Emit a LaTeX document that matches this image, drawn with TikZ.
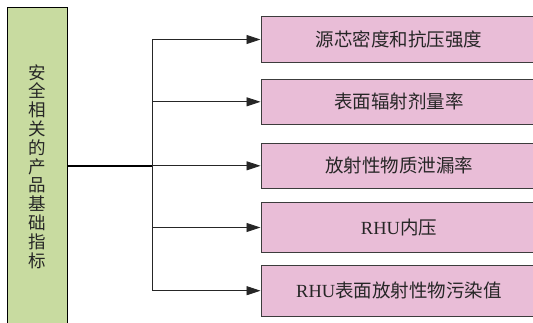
\documentclass[tikz,border=0pt]{standalone}
\usepackage{fontspec}
\setmainfont{Liberation Serif}
\newfontfamily\cjk{Noto Sans CJK SC}
\usetikzlibrary{arrows.meta}
\definecolor{boxgreen}{RGB}{200,219,160}
\definecolor{boxpink}{RGB}{233,189,215}
\definecolor{edgegray}{RGB}{60,60,60}
\begin{document}
\begin{tikzpicture}[x=1pt,y=-1pt,
  leftbox/.style={draw=black, line width=1pt, fill=boxgreen, minimum width=60pt, inner sep=0pt, anchor=north west},
  itembox/.style={draw=edgegray, line width=1pt, fill=boxpink, minimum width=276pt, inner sep=0pt,
    font=\fontsize{18.5}{20}\selectfont, text=black!85},
  conn/.style={draw=black!85, line width=0.9pt},
  arr/.style={conn, -{Triangle[length=14pt,width=9pt]}}
]
\useasboundingbox (0,0) rectangle (533,322);
% left box
\node[leftbox, minimum height=330pt] (L) at (7,7) {};
\node[font=\fontsize{17.5}{18.8}\selectfont\cjk, align=center, text=black!85, inner sep=0pt] (LT) at (37,166.5)
  {安\\全\\相\\关\\的\\产\\品\\基\\础\\指\\标};
% right boxes
\node[itembox, minimum height=45.5pt] (B1) at (399,39.5) {\cjk 源芯密度和抗压强度};
\node[itembox, minimum height=45pt] (B2) at (399,101.8) {\cjk 表面辐射剂量率};
\node[itembox, minimum height=45pt] (B3) at (399,165.8) {\cjk 放射性物质泄漏率};
\node[itembox, minimum height=50.4pt] (B4) at (399,227.5) {RHU{\cjk 内压}};
\node[itembox, minimum height=50.7pt] (B5) at (399,290.7) {RHU{\cjk 表面放射性物污染值}};
% connectors
\coordinate (J) at (152,165.8);
\coordinate (T) at (152,39.5);
\coordinate (Bm) at (152,290.7);
\draw[conn, line width=1.6pt, draw=black] (L.east |- J) -- (J);
\draw[conn] (T) -- (Bm);
\draw[arr] (T) -- (B1.west);
\draw[arr] (T |- B2.west) -- (B2.west);
\draw[arr] (J) -- (B3.west);
\draw[arr] (T |- B4.west) -- (B4.west);
\draw[arr] (Bm) -- (B5.west);
\end{tikzpicture}
\end{document}
